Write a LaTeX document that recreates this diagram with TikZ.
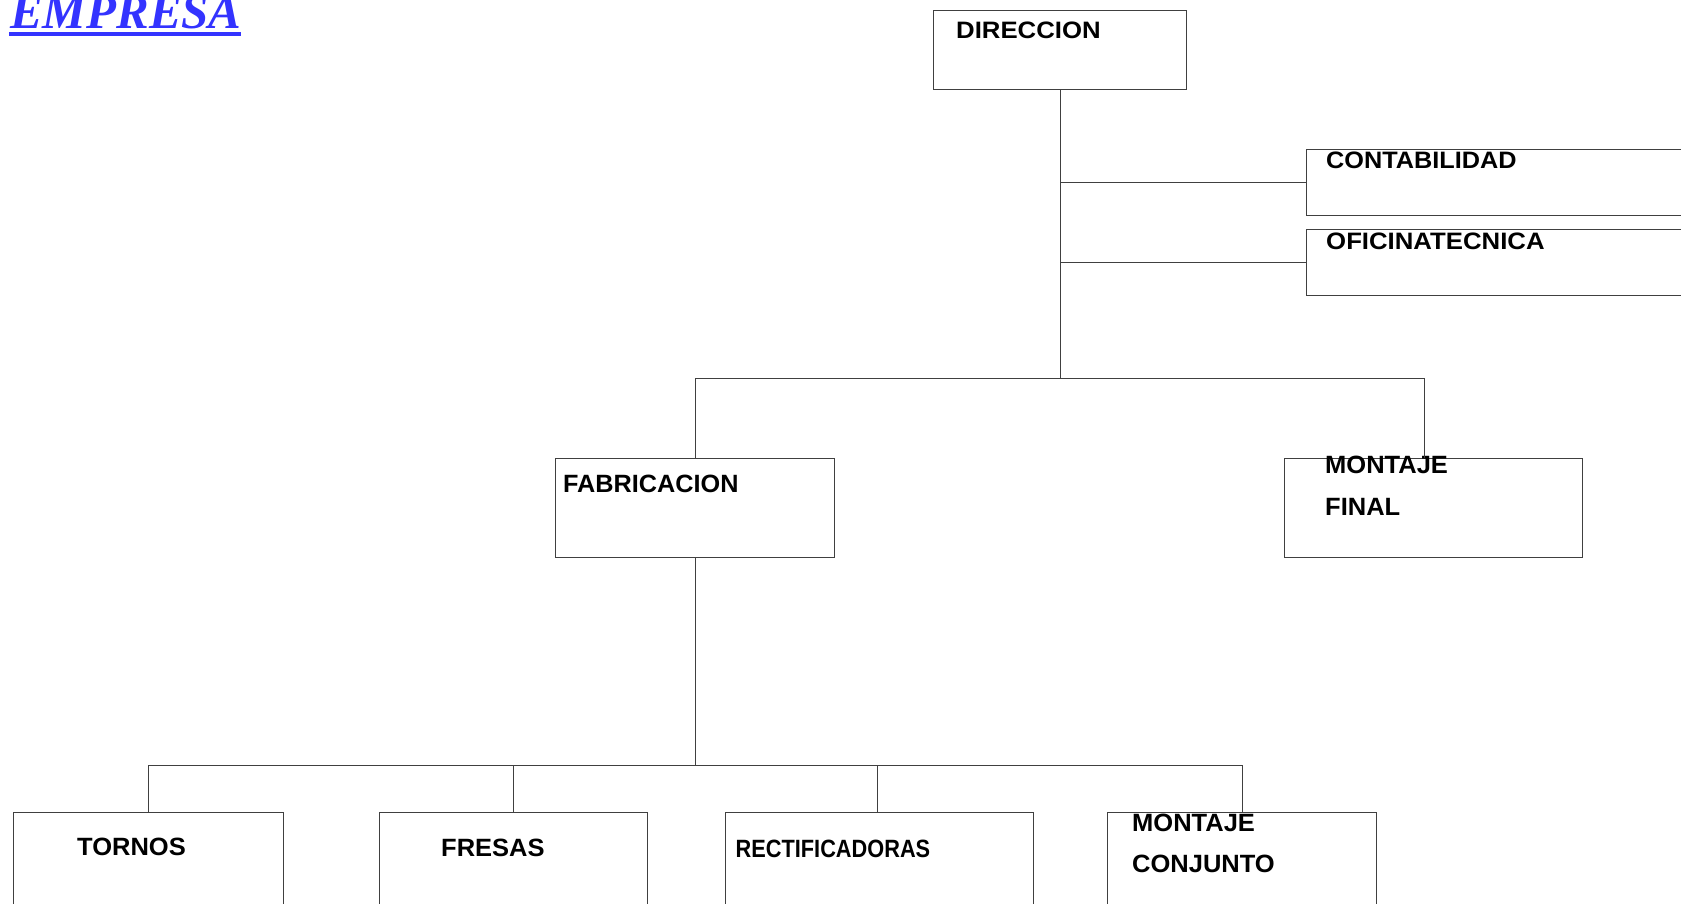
\documentclass[tikz,border=0pt]{standalone}
\usepackage{fontspec}
\usepackage{graphicx}
\setmainfont{Liberation Sans}
\newfontfamily\titlefont{Liberation Serif}
\definecolor{titleblue}{RGB}{51,51,255}
\definecolor{linegray}{RGB}{64,64,64}
\newcommand{\sq}[3]{\scalebox{#1}[#2]{#3}}
\begin{document}
\begin{tikzpicture}[x=1pt,y=-1pt,
  box/.style={draw=linegray, line width=1pt, rectangle, inner sep=0pt, anchor=north west},
  lbl/.style={anchor=base west, inner sep=0pt, font=\bfseries\fontsize{25}{30}\selectfont},
  conn/.style={draw=linegray, line width=1pt}]
\useasboundingbox (0,0) rectangle (1681,903);
\clip (0,0) rectangle (1681,903);

% title
\node[anchor=base west, inner sep=0pt, text=titleblue,
      font=\titlefont\bfseries\itshape\fontsize{49}{56}\selectfont] (title) at (10,28.5) {EMPRESA};
\fill[titleblue] (9,32.3) rectangle (241,35.7);

% boxes
\node[box, minimum width=253pt, minimum height=79.5pt] (dir)  at (933,9.5) {};
\node[box, minimum width=390pt, minimum height=66pt]   (cont) at (1306,149) {};
\node[box, minimum width=390pt, minimum height=66pt]   (ofi)  at (1306,229) {};
\node[box, minimum width=279pt, minimum height=99pt]   (fab)  at (555,458) {};
\node[box, minimum width=298pt, minimum height=99pt]   (mfin) at (1284,458) {};
\node[box, minimum width=270pt, minimum height=100pt]  (torn) at (13,812) {};
\node[box, minimum width=268pt, minimum height=100pt]  (fres) at (379,812) {};
\node[box, minimum width=308pt, minimum height=100pt]  (rect) at (725,812) {};
\node[box, minimum width=269pt, minimum height=100pt]  (mcon) at (1107,812) {};

% labels
\node[lbl] (tdir)  at (956,38)     {\sq{1.03}{0.95}{DIRECCION}};
\node[lbl] (tcont) at (1326,168.3) {\sq{1.01}{0.95}{CONTABILIDAD}};
\node[lbl] (tofi)  at (1326,249)   {\sq{1.03}{0.95}{OFICINATECNICA}};
\node[lbl] (tfab)  at (563,492.3)  {\sq{1.01}{1}{FABRICACION}};
\node[lbl] (tmf1)  at (1325,473)   {\sq{1.02}{1}{MONTAJE}};
\node[lbl] (tmf2)  at (1325,515)   {\sq{1.02}{1}{FINAL}};
\node[lbl] (ttorn) at (77,855)     {\sq{1.02}{1}{TORNOS}};
\node[lbl] (tfres) at (441,856)    {\sq{1.02}{1}{FRESAS}};
\node[lbl] (trect) at (735.5,857)  {\sq{0.87}{1}{RECTIFICADORAS}};
\node[lbl] (tmc1)  at (1132,831)   {\sq{1.02}{1}{MONTAJE}};
\node[lbl] (tmc2)  at (1132,872)   {\sq{1.02}{1}{CONJUNTO}};

% junction coordinates
\coordinate (bus1) at (1060,378);
\coordinate (mfdrop) at (1424,458);
\coordinate (bus2) at (695,765);
\coordinate (rdrop) at (877,812);

% connectors
\draw[conn] (dir.south) -- (dir.south |- bus1);
\draw[conn] (dir.south |- cont.west) -- (cont.west);
\draw[conn] (dir.south |- ofi.west) -- (ofi.west);
\draw[conn] (fab.north) |- (mfdrop |- bus1) -- (mfdrop);
\draw[conn] (fab.south) -- (fab.south |- bus2);
\draw[conn] (torn.north) |- (mcon.north |- bus2) -- (mcon.north);
\draw[conn] (fres.north) -- (fres.north |- bus2);
\draw[conn] (rdrop) -- (rdrop |- bus2);
\end{tikzpicture}
\end{document}
